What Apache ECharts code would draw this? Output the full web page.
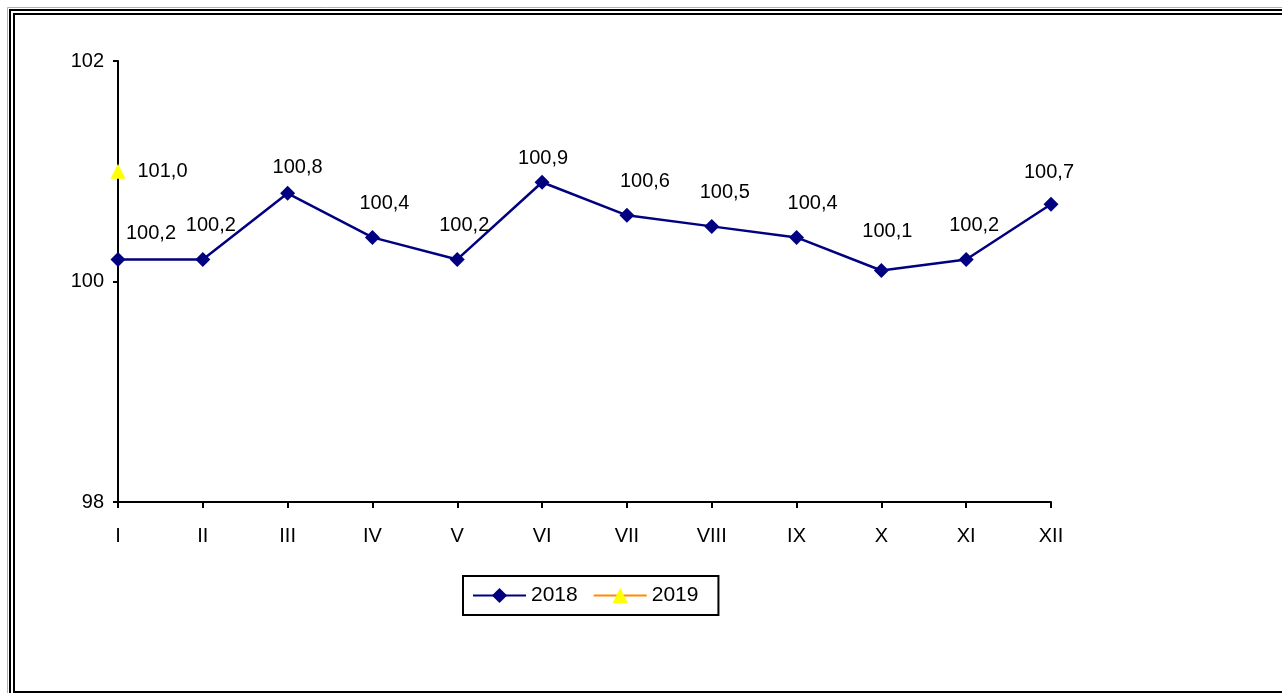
<!DOCTYPE html>
<html>
<head>
<meta charset="utf-8">
<script src="https://cdn.jsdelivr.net/npm/echarts@6/dist/echarts.min.js"></script>
<style>
html,body{margin:0;padding:0;background:#fff;}
#c{width:1282px;height:693px;}
</style>
</head>
<body>
<div id="c"></div>
<script>
var categories = ['I','II','III','IV','V','VI','VII','VIII','IX','X','XI','XII'];
var values2018 = [100.2,100.2,100.8,100.4,100.2,100.9,100.6,100.5,100.4,100.1,100.2,100.7];
var values2019 = [101.0,null,null,null,null,null,null,null,null,null,null,null];
var seriesNames = ['2018','2019'];
var yTicks = {min:98, max:102, interval:2};

// label placement (style only): offsets of label centre from point
var labelOffsets2018 = [[33,0],[8,-8],[10,0],[12,-8],[7,-8],[1,2],[18,-8],[13,-8],[16,-8],[6,-13],[8,-8],[-2,-6]];

var FONT = 'Liberation Sans';
var chart = echarts.init(document.getElementById('c'), null, {renderer:'canvas'});

function fmt(v){ return v.toFixed(1).replace('.', ','); }

var data2018 = values2018.map(function(v,i){
  return {value:v, label:{offset:labelOffsets2018[i]}};
});

chart.setOption({
  animation:false,
  backgroundColor:'#fff',
  textStyle:{fontFamily:FONT},
  grid:{left:118, right:231, top:61, bottom:191, containLabel:false},
  xAxis:{
    type:'category', data:categories, boundaryGap:false,
    axisLine:{lineStyle:{color:'#000', width:2}},
    axisTick:{show:true, length:6, lineStyle:{color:'#000', width:2}},
    axisLabel:{color:'#000', fontSize:20, fontFamily:FONT, margin:24},
    splitLine:{show:false}
  },
  yAxis:{
    type:'value', min:yTicks.min, max:yTicks.max, interval:yTicks.interval,
    axisLine:{show:true, lineStyle:{color:'#000', width:2}},
    axisTick:{show:true, length:5, lineStyle:{color:'#000', width:2}},
    axisLabel:{color:'#000', fontSize:20, fontFamily:FONT, margin:14},
    splitLine:{show:false}
  },
  legend:{
    data:seriesNames,
    left:463, top:576,
    orient:'horizontal',
    itemWidth:53, itemHeight:19, itemGap:15,
    padding:[9,20,9,9],
    borderColor:'#000', borderWidth:2,
    textStyle:{color:'#000', fontSize:21, fontFamily:FONT}
  },
  series:[
    {
      name:seriesNames[0], type:'line', data:data2018,
      symbol:'diamond', symbolSize:15,
      itemStyle:{color:'#000080'},
      lineStyle:{color:'#000080', width:2.5},
      label:{show:true, position:'top', distance:8, color:'#000', fontSize:20, fontFamily:FONT,
        formatter:function(p){return fmt(p.value);}}
    },
    {
      name:seriesNames[1], type:'line', data:values2019,
      symbol:'triangle', symbolSize:15,
      itemStyle:{color:'#ffff00'},
      lineStyle:{color:'#ff8c00', width:2.5},
      label:{show:true, position:'right', distance:12, color:'#000', fontSize:20, fontFamily:FONT,
        formatter:function(p){return fmt(p.value);}}
    }
  ],
  graphic:[
    {type:'rect', silent:true, z:100, shape:{x:7.5,y:7.5,width:2000,height:2000}, style:{fill:null, stroke:'#b0b0b0', lineWidth:1}},
    {type:'rect', silent:true, z:100, shape:{x:10,y:10,width:2000,height:2000}, style:{fill:null, stroke:'#000', lineWidth:2}},
    {type:'rect', silent:true, z:100, shape:{x:14,y:14,width:2000,height:678}, style:{fill:null, stroke:'#000', lineWidth:2}}
  ]
});
</script>
</body>
</html>
